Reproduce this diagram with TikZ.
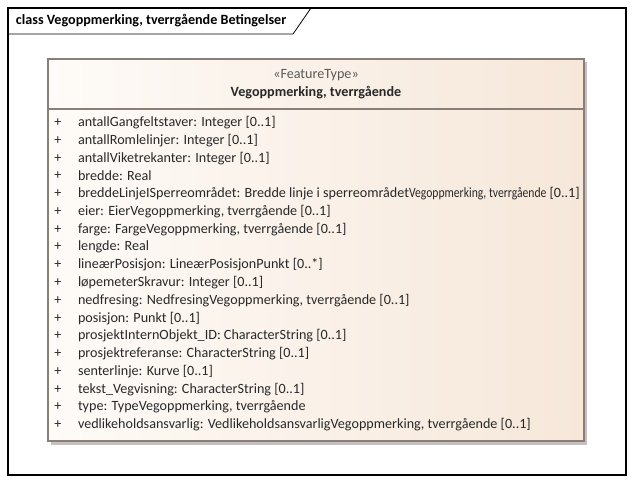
\documentclass[tikz,border=0pt]{standalone}
\usepackage{fontspec}
\setmainfont{Carlito}
\definecolor{boxline}{RGB}{138,126,120}
\definecolor{boxleft}{RGB}{254,251,248}
\definecolor{boxright}{RGB}{246,231,217}
\definecolor{boxshadow}{RGB}{196,192,192}
\definecolor{txt}{RGB}{40,40,40}
\begin{document}
\begin{tikzpicture}[x=0.75pt,y=-0.75pt,inner sep=0pt,outer sep=0pt,
classpart/.style={draw=boxline,line width=0.8pt,rectangle,left color=boxleft,right color=boxright},
plus/.style={font=\fontsize{10.6}{12}\selectfont,text=txt},
attr/.style={anchor=west,font=\fontsize{10.6}{12}\selectfont,text=txt}]
\useasboundingbox (0,0) rectangle (635,483);
% frame and title tab
\draw[line width=0.8pt] (8,8) rectangle (626,475);
\draw[line width=0.6pt] (8,34) -- (293,34) -- (311,8);
\draw (16,21) node[anchor=west,font=\fontsize{10.6}{12}\selectfont\bfseries] (title) {class Vegoppmerking, tverrgående Betingelser};
% class box
\fill[boxshadow] (51,62) rectangle (587,445);
\draw (48,109) node[classpart,anchor=north west,minimum width=536*0.75pt,minimum height=332*0.75pt] (body) {};
\draw (48,59) node[classpart,anchor=north west,minimum width=536*0.75pt,minimum height=50*0.75pt] (head) {};
\draw (316,75) node[font=\fontsize{10.6}{12}\selectfont,text=black!65] (stereo) {«FeatureType»};
\draw (316,93) node[font=\fontsize{10.6}{12}\selectfont\bfseries,text=txt] (name) {Vegoppmerking, tverrgående};
% attributes
\draw (58,122.7) node[plus] (p1) {+};
\draw (78,122.7) node[attr] (a1) {antallGangfeltstaver: Integer [0..1]};
\draw (58,140.5) node[plus] (p2) {+};
\draw (78,140.5) node[attr] (a2) {antallRomlelinjer: Integer [0..1]};
\draw (58,158.3) node[plus] (p3) {+};
\draw (78,158.3) node[attr] (a3) {antallViketrekanter: Integer [0..1]};
\draw (58,176.0) node[plus] (p4) {+};
\draw (78,176.0) node[attr] (a4) {bredde: Real};
\draw (58,193.8) node[plus] (p5) {+};
\draw (78,193.8) node[attr] (a5) {breddeLinjeISperreområdet: Bredde linje i sperreområdet\resizebox{103pt}{\height}{Vegoppmerking, tverrgående}\ [0..1]};
\draw (58,211.6) node[plus] (p6) {+};
\draw (78,211.6) node[attr] (a6) {eier: EierVegoppmerking, tverrgående [0..1]};
\draw (58,229.4) node[plus] (p7) {+};
\draw (78,229.4) node[attr] (a7) {farge: FargeVegoppmerking, tverrgående [0..1]};
\draw (58,247.1) node[plus] (p8) {+};
\draw (78,247.1) node[attr] (a8) {lengde: Real};
\draw (58,264.9) node[plus] (p9) {+};
\draw (78,264.9) node[attr] (a9) {lineærPosisjon: LineærPosisjonPunkt [0..*]};
\draw (58,282.7) node[plus] (p10) {+};
\draw (78,282.7) node[attr] (a10) {løpemeterSkravur: Integer [0..1]};
\draw (58,300.5) node[plus] (p11) {+};
\draw (78,300.5) node[attr] (a11) {nedfresing: NedfresingVegoppmerking, tverrgående [0..1]};
\draw (58,318.2) node[plus] (p12) {+};
\draw (78,318.2) node[attr] (a12) {posisjon: Punkt [0..1]};
\draw (58,336.0) node[plus] (p13) {+};
\draw (78,336.0) node[attr] (a13) {prosjektInternObjekt\_ID: CharacterString [0..1]};
\draw (58,353.8) node[plus] (p14) {+};
\draw (78,353.8) node[attr] (a14) {prosjektreferanse: CharacterString [0..1]};
\draw (58,371.6) node[plus] (p15) {+};
\draw (78,371.6) node[attr] (a15) {senterlinje: Kurve [0..1]};
\draw (58,389.3) node[plus] (p16) {+};
\draw (78,389.3) node[attr] (a16) {tekst\_Vegvisning: CharacterString [0..1]};
\draw (58,407.1) node[plus] (p17) {+};
\draw (78,407.1) node[attr] (a17) {type: TypeVegoppmerking, tverrgående};
\draw (58,424.9) node[plus] (p18) {+};
\draw (78,424.9) node[attr] (a18) {vedlikeholdsansvarlig: VedlikeholdsansvarligVegoppmerking, tverrgående [0..1]};
\end{tikzpicture}
\end{document}
